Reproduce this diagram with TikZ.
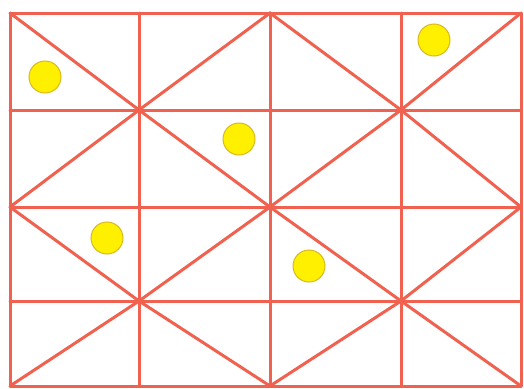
\documentclass[tikz,border=0pt]{standalone}
\begin{document}
\begin{tikzpicture}[x=1pt,y=-1pt,
  gridline/.style={draw=lineRed,line width=3pt,line cap=round},
  dot/.style={circle,fill=dotYellow,draw=dotEdge,line width=1pt,minimum size=32pt,inner sep=0pt}]
\definecolor{lineRed}{HTML}{F0624F}
\definecolor{dotYellow}{HTML}{FFF000}
\definecolor{dotEdge}{HTML}{D8B820}
\useasboundingbox (0,0) rectangle (524,388);
% grid coordinates
\foreach \i/\x in {0/10,1/139,2/270,3/401,4/521}{
  \foreach \j/\y in {0/13,1/110,2/207,3/301,4/386}{
    \coordinate (p\i\j) at (\x,\y);
  }
}
% horizontal lines
\foreach \j in {0,...,4}{ \draw[gridline] (p0\j) -- (p4\j); }
% vertical lines
\foreach \i in {0,...,4}{ \draw[gridline] (p\i0) -- (p\i4); }
% diagonals
\draw[gridline] (p00) -- (p11) -- (p22) -- (p33) -- (p44);
\draw[gridline] (p02) -- (p11) -- (p20) -- (p31) -- (p42);
\draw[gridline] (p04) -- (p13) -- (p22) -- (p31) -- (p40);
\draw[gridline] (p02) -- (p13) -- (p24);
\draw[gridline] (p24) -- (p33) -- (p42);
% dots
\node[dot] (d1) at (45,77) {};
\node[dot] (d2) at (434,40) {};
\node[dot] (d3) at (239,139) {};
\node[dot] (d4) at (107,238) {};
\node[dot] (d5) at (309,266) {};
\end{tikzpicture}
\end{document}
